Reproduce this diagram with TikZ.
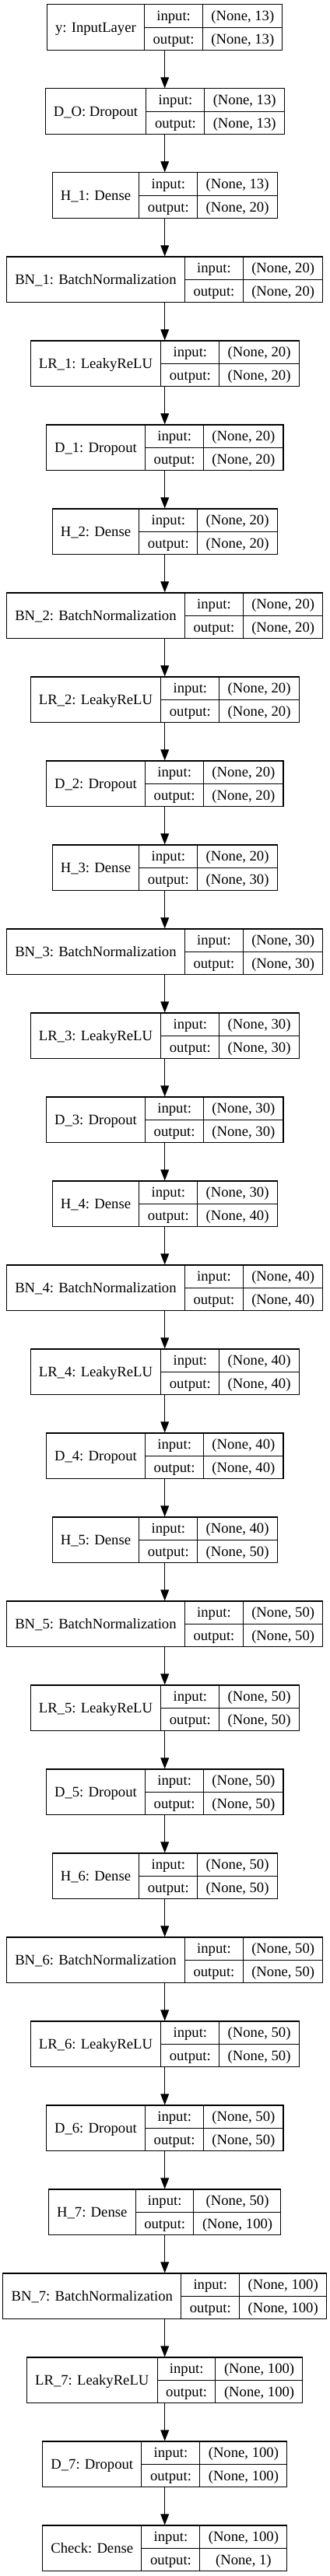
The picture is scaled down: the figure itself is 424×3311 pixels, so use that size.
\documentclass[tikz,border=0pt]{standalone}
\usepackage{fontspec}
\setmainfont{Liberation Serif}
\usetikzlibrary{arrows.meta}

\setlength{\tabcolsep}{8pt}
\setlength{\arrayrulewidth}{0.8pt}
\newcommand{\iorow}{\rule[-6.3pt]{0pt}{21.6pt}}
\newcommand{\layerbox}[3]{%
  \begin{tabular}{c|@{}c@{}|@{}c@{}}
    \raisebox{-1.3pt}{#1} &
    \begin{tabular}{c} input:\iorow \\ \hline output:\iorow \end{tabular} &
    \begin{tabular}{c} (None, #2)\iorow \\ \hline (None, #3)\iorow \end{tabular}
  \end{tabular}}

\begin{document}
\begin{tikzpicture}[
  x=0.75pt, y=-0.75pt,
  layer/.style={draw, line width=0.8pt, inner sep=0pt, font=\fontsize{14pt}{17pt}\selectfont},
  arr/.style={-{Triangle[length=10.5pt, width=8pt]}, line width=0.8pt},
]
  \useasboundingbox (0,0) rectangle (424,3311);

  % one record per keras layer
  \foreach \lab/\inp/\outp [count=\i from 0] in {
    y: InputLayer/13/13,
    D\_O: Dropout/13/13,
    H\_1: Dense/13/20,
    BN\_1: BatchNormalization/20/20,
    LR\_1: LeakyReLU/20/20,
    D\_1: Dropout/20/20,
    H\_2: Dense/20/20,
    BN\_2: BatchNormalization/20/20,
    LR\_2: LeakyReLU/20/20,
    D\_2: Dropout/20/20,
    H\_3: Dense/20/30,
    BN\_3: BatchNormalization/30/30,
    LR\_3: LeakyReLU/30/30,
    D\_3: Dropout/30/30,
    H\_4: Dense/30/40,
    BN\_4: BatchNormalization/40/40,
    LR\_4: LeakyReLU/40/40,
    D\_4: Dropout/40/40,
    H\_5: Dense/40/50,
    BN\_5: BatchNormalization/50/50,
    LR\_5: LeakyReLU/50/50,
    D\_5: Dropout/50/50,
    H\_6: Dense/50/50,
    BN\_6: BatchNormalization/50/50,
    LR\_6: LeakyReLU/50/50,
    D\_6: Dropout/50/50,
    H\_7: Dense/50/100,
    BN\_7: BatchNormalization/100/100,
    LR\_7: LeakyReLU/100/100,
    D\_7: Dropout/100/100,
    Check: Dense/100/1}
    \node[layer] (L\i) at (211.7, 35.3+108*\i) {\layerbox{\lab}{\inp}{\outp}};

  % edges
  \foreach \i [remember=\i as \j (initially 0)] in {1,...,30}
    \draw[arr] (L\j) -- (L\i);
\end{tikzpicture}
\end{document}
